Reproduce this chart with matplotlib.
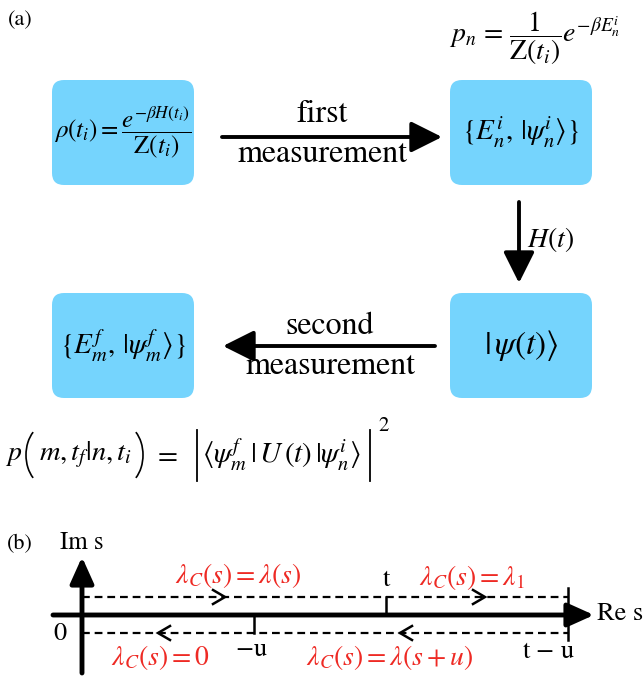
import matplotlib
matplotlib.use('Agg')
import matplotlib.pyplot as plt
from matplotlib.patches import FancyBboxPatch, Arc

plt.rcParams['font.family'] = 'STIXGeneral'
plt.rcParams['mathtext.fontset'] = 'stix'

BOX_COLOR = '#75D4FD'
RED = '#EE2A24'

# ── (a) boxes: (x, y, w, h, text, fontsize) in pixel coords ──
box_labels = [
    r'$\rho(t_i) = \dfrac{e^{-\beta H(t_i)}}{\mathrm{Z}(t_i)}$',
    r'$\{E_n^i,\, |\psi_n^i\rangle\}$',
    r'$|\,\psi(t)\rangle$',
    r'$\{E_m^f,\, |\psi_m^f\rangle\}$',
]
box_x = [52, 450, 450, 52]
box_y = [80, 80, 293, 293]
box_fs = [18, 21, 24, 21]

# ── (b) contour ticks ──
re_ticks = ['0', r'$-$u', 't', r't $-$ u']
re_tick_x = [82, 254, 386, 568]
contour_labels = [r'$\lambda_C(s) = \lambda(s)$', r'$\lambda_C(s) = \lambda_1$',
                  r'$\lambda_C(s) = 0$', r'$\lambda_C(s) = \lambda(s+u)$']
contour_label_xy = [(238, 575), (472, 577), (160, 658), (390, 658)]

fig = plt.figure(figsize=(6.43, 6.77), dpi=100)
ax = fig.add_axes([0, 0, 1, 1])
ax.set_xlim(0, 643)
ax.set_ylim(677, 0)
ax.axis('off')

W, H = 142, 105
for x, y, lab, fs in zip(box_x, box_y, box_labels, box_fs):
    ax.add_patch(FancyBboxPatch((x + 12, y + 12), W - 24, H - 24,
                                boxstyle='round,pad=12', facecolor=BOX_COLOR,
                                edgecolor='none'))
    ax.text(x + W / 2, y + H / 2, lab, ha='center', va='center', fontsize=fs)

ax.text(8, 20, '(a)', ha='left', va='center', fontsize=16)
ax.text(535, 38, r'$p_n \,=\, \dfrac{1}{\mathrm{Z}(t_i)}e^{-\beta E_n^i}$',
        ha='center', va='center', fontsize=20)


def big_arrow(x1, y1, x2, y2):
    ax.annotate('', xy=(x2, y2), xytext=(x1, y1),
                arrowprops=dict(arrowstyle='-|>,head_length=1.0,head_width=0.5',
                                mutation_scale=19, lw=2.8, color='black',
                                shrinkA=0, shrinkB=0))


big_arrow(222, 137, 442, 137)
ax.text(322, 114, 'first', ha='center', va='center', fontsize=23)
ax.text(322, 154, 'measurement', ha='center', va='center', fontsize=23)

big_arrow(519, 202, 519, 283)
ax.text(551, 240, r'$H(t)$', ha='center', va='center', fontsize=20)

big_arrow(435, 346, 223, 346)
ax.text(330, 326, 'second', ha='center', va='center', fontsize=23)
ax.text(330, 366, 'measurement', ha='center', va='center', fontsize=23)

# transition probability, built from pieces so the brackets can be tall
yp = 455
ax.text(5, yp, r'$p$', ha='left', va='center', fontsize=20)
ax.add_patch(Arc((48, yp), 44, 62, theta1=123, theta2=237, lw=1.2, color='black'))
ax.text(39, yp, r'$m, t_f|n, t_i$', ha='left', va='center', fontsize=20.5)
ax.add_patch(Arc((121, yp), 44, 62, theta1=-57, theta2=57, lw=1.2, color='black'))
ax.text(153, yp, r'$=$', ha='left', va='center', fontsize=21)
ax.plot([197, 197], [430, 481], color='black', lw=1.3)
ax.text(202, yp, r'$\langle\psi_m^f\,|\,U\,(t)\,|\psi_n^i\rangle$',
        ha='left', va='center', fontsize=21)
ax.plot([370, 370], [430, 481], color='black', lw=1.3)
ax.text(378, 426, '2', ha='left', va='center', fontsize=15)

# ── (b) ──
ax.text(7, 544, '(b)', ha='left', va='center', fontsize=16)
ax.text(82, 543, 'Im s', ha='center', va='center', fontsize=18)
ax.text(620, 614, 'Re s', ha='center', va='center', fontsize=19)

y_axis, y_top, y_bot = 615, 597, 633
ax.annotate('', xy=(82, 557), xytext=(82, 673),
            arrowprops=dict(arrowstyle='-|>,head_length=1.0,head_width=0.45',
                            mutation_scale=16, lw=3.5, color='black',
                            shrinkA=0, shrinkB=0))
ax.annotate('', xy=(594, y_axis), xytext=(53, y_axis),
            arrowprops=dict(arrowstyle='-|>,head_length=1.0,head_width=0.45',
                            mutation_scale=16, lw=3.5, color='black',
                            shrinkA=0, shrinkB=0))

ax.plot([82, 568], [y_top, y_top], color='black', lw=1.6, dashes=(3.5, 2.2))
ax.plot([82, 568], [y_bot, y_bot], color='black', lw=1.6, dashes=(3.5, 2.2))


def chevron(x, y, direction):
    d = 12 * direction
    ax.plot([x - d, x, x - d], [y - 7, y, y + 7], color='black', lw=1.8,
            solid_joinstyle='miter')


chevron(225, y_top, 1)
chevron(485, y_top, 1)
chevron(158, y_bot, -1)
chevron(400, y_bot, -1)

# ticks
ax.plot([re_tick_x[1]] * 2, [y_axis, y_bot], color='black', lw=1.8)
ax.plot([re_tick_x[2]] * 2, [y_top, y_axis], color='black', lw=1.8)
ax.plot([re_tick_x[3]] * 2, [588, 640], color='black', lw=1.8)

ax.text(60, 634, re_ticks[0], ha='center', va='center', fontsize=19)
ax.text(251, 650, re_ticks[1], ha='center', va='center', fontsize=19)
ax.text(386, 580, re_ticks[2], ha='center', va='center', fontsize=19)
ax.text(549, 652, re_ticks[3], ha='center', va='center', fontsize=19)

for lab, (x, y) in zip(contour_labels, contour_label_xy):
    ax.text(x, y, lab, ha='center', va='center', fontsize=20, color=RED)

fig.savefig('out.png', dpi=100)
